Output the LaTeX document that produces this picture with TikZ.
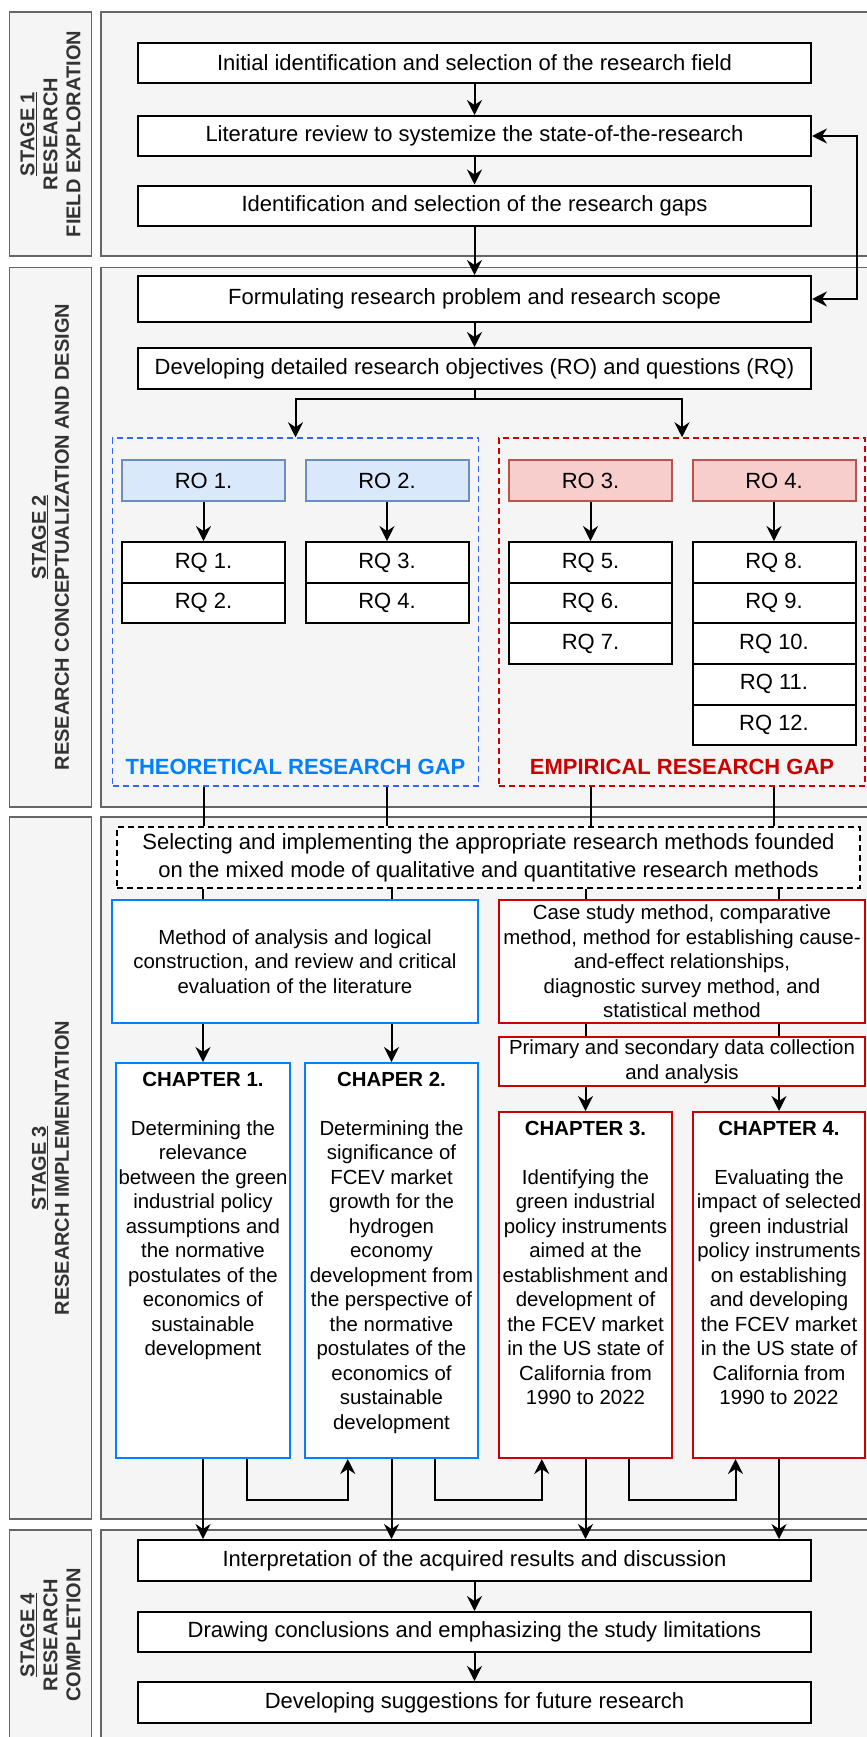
\documentclass[tikz,border=0pt]{standalone}
\usepackage{fontspec}
\setmainfont{Liberation Sans}
\usetikzlibrary{arrows.meta,positioning,calc}

\definecolor{panelfill}{HTML}{F5F5F5}
\definecolor{panelgray}{HTML}{666666}
\definecolor{labelgray}{HTML}{333333}
\definecolor{dashblue}{HTML}{3366FF}
\definecolor{theoblue}{HTML}{007FFF}
\definecolor{empred}{HTML}{CC0000}
\definecolor{rofillblue}{HTML}{DAE8FC}
\definecolor{rodrawblue}{HTML}{6C8EBF}
\definecolor{rofillred}{HTML}{F8CECC}
\definecolor{rodrawred}{HTML}{B85450}

\begin{document}
\begin{tikzpicture}[x=1pt,y=-1pt,
  panel/.style={draw=panelgray,fill=panelfill,line width=1.5pt},
  stagetext/.style={rotate=90,align=center,text=labelgray,inner sep=0pt,
    font=\fontsize{20}{23}\selectfont\bfseries},
  box/.style={draw,fill=white,line width=2pt,inner sep=0pt,minimum width=673pt,
    minimum height=40pt,font=\fontsize{22}{26.4}\selectfont},
  smallbox/.style={draw,fill=white,line width=2pt,inner sep=0pt,minimum width=163pt,
    minimum height=40.7pt,font=\fontsize{22}{26.4}\selectfont},
  robox/.style={smallbox,fill=rofillblue,draw=rodrawblue},
  rorbox/.style={smallbox,fill=rofillred,draw=rodrawred},
  gapbox/.style={draw,dash pattern=on 6pt off 4pt,line width=1.5pt,
    minimum width=366pt,minimum height=348pt},
  gaptext/.style={font=\fontsize{22}{26.4}\selectfont\bfseries,inner sep=0pt},
  methbox/.style={draw,fill=white,line width=2.5pt,inner sep=0pt,align=center,
    minimum width=366pt,font=\fontsize{20.4}{24.5}\selectfont},
  chapbox/.style={draw,fill=white,line width=2pt,inner sep=0pt},
  chaptext/.style={align=center,inner sep=0pt,font=\fontsize{20.4}{24.5}\selectfont},
  conn/.style={line width=2pt,-{Stealth[length=15pt,width=15pt,inset=5pt]}},
  both/.style={line width=2pt,{Stealth[length=15pt,width=15pt,inset=5pt]}-{Stealth[length=15pt,width=15pt,inset=5pt]}},
  plain/.style={line width=2pt}]
\useasboundingbox (0,0) rectangle (867,1737);

% stage panels
\draw[panel] (9.5,12) rectangle (91.5,256);
\draw[panel] (101,12) rectangle (880,256);
\draw[panel] (9.5,267.5) rectangle (91.5,807);
\draw[panel] (101,267.5) rectangle (880,807);
\draw[panel] (9.5,817) rectangle (91.5,1519);
\draw[panel] (101,817) rectangle (880,1519);
\draw[panel] (9.5,1530) rectangle (91.5,1760);
\draw[panel] (101,1530) rectangle (880,1760);

\node[stagetext] (st1) at (50.5,134) {\underline{STAGE 1}\\RESEARCH\\FIELD EXPLORATION};
\node[stagetext] (st2) at (50.5,537) {\underline{STAGE 2}\\RESEARCH CONCEPTUALIZATION AND DESIGN};
\node[stagetext] (st3) at (50.5,1168) {\underline{STAGE 3}\\RESEARCH IMPLEMENTATION};
\node[stagetext] (st4) at (50.5,1635) {\underline{STAGE 4}\\RESEARCH\\COMPLETION};

% stage 1
\node[box] (init) at (474.5,63) {Initial identification and selection of the research field};
\node[box] (litrev) at (474.5,136) {Literature review to systemize the state-of-the-research};
\node[box] (gaps) at (474.5,205.5) {Identification and selection of the research gaps};

% stage 2
\node[box,minimum height=46pt] (formul) at (474.5,299) {Formulating research problem and research scope};
\node[box,minimum height=41pt] (devobj) at (474.5,368.5) {Developing detailed research objectives (RO) and questions (RQ)};

\node[gapbox,draw=dashblue] (theo) at (295.5,612) {};
\node[gapbox,draw=empred] (emp) at (682,612) {};

\node[robox] (ro1) at (203.5,480.5) {RO 1.};
\node[robox] (ro2) at (387,480.5) {RO 2.};
\node[rorbox] (ro3) at (590.5,480.5) {RO 3.};
\node[rorbox] (ro4) at (774,480.5) {RO 4.};

\node[smallbox] (rq1) at (203.5,562.4) {RQ 1.};
\node[smallbox] (rq2) at (203.5,603) {RQ 2.};
\node[smallbox] (rq3) at (387,562.4) {RQ 3.};
\node[smallbox] (rq4) at (387,603) {RQ 4.};
\node[smallbox] (rq5) at (590.5,562.4) {RQ 5.};
\node[smallbox] (rq6) at (590.5,603) {RQ 6.};
\node[smallbox] (rq7) at (590.5,643.7) {RQ 7.};
\node[smallbox] (rq8) at (774,562.4) {RQ 8.};
\node[smallbox] (rq9) at (774,603) {RQ 9.};
\node[smallbox] (rq10) at (774,643.7) {RQ 10.};
\node[smallbox] (rq11) at (774,684.3) {RQ 11.};
\node[smallbox] (rq12) at (774,725) {RQ 12.};

\node[gaptext,text=theoblue] (theolab) at (295.5,767) {THEORETICAL RESEARCH GAP};
\node[gaptext,text=empred] (emplab) at (682,767) {EMPIRICAL RESEARCH GAP};

% stage 3
\node[methbox,dash pattern=on 6pt off 4pt,minimum width=743pt,minimum height=61pt,
  font=\fontsize{22}{28}\selectfont] (meth) at (488.5,857.5)
  {Selecting and implementing the appropriate research methods founded\\on the mixed mode of qualitative and quantitative research methods};
\node[methbox,draw=theoblue,minimum height=123pt] (mtheo) at (295,961.5)
  {Method of analysis and logical\\construction, and review and critical\\evaluation of the literature};
\node[methbox,draw=empred,minimum height=123pt] (memp) at (682,961.5)
  {Case study method, comparative\\method, method for establishing cause-\\and-effect relationships,\\diagnostic survey method, and\\statistical method};
\node[methbox,draw=empred,minimum height=49pt] (prim) at (682,1061.5)
  {Primary and secondary data collection\\and analysis};

\node[chapbox,draw=theoblue,minimum width=174pt,minimum height=395pt] (ch1) at (203,1260.5) {};
\node[chapbox,draw=theoblue,minimum width=173pt,minimum height=395pt] (ch2) at (391.5,1260.5) {};
\node[chapbox,draw=empred,minimum width=173pt,minimum height=346pt] (ch3) at (585.5,1285) {};
\node[chapbox,draw=empred,minimum width=172pt,minimum height=346pt] (ch4) at (779,1285) {};

\node[chaptext,below=10pt of ch1.north] (ch1txt) {\textbf{CHAPTER 1.}\\[24.5pt]
  Determining the\\relevance\\between the green\\industrial policy\\assumptions and\\the normative\\postulates of the\\economics of\\sustainable\\development};
\node[chaptext,below=10pt of ch2.north] (ch2txt) {\textbf{CHAPER 2.}\\[24.5pt]
  Determining the\\significance of\\FCEV market\\growth for the\\hydrogen\\economy\\development from\\the perspective of\\the normative\\postulates of the\\economics of\\sustainable\\development};
\node[chaptext,below=10pt of ch3.north] (ch3txt) {\textbf{CHAPTER 3.}\\[24.5pt]
  Identifying the\\green industrial\\policy instruments\\aimed at the\\establishment and\\development of\\the FCEV market\\in the US state of\\California from\\1990 to 2022};
\node[chaptext,below=10pt of ch4.north] (ch4txt) {\textbf{CHAPTER 4.}\\[24.5pt]
  Evaluating the\\impact of selected\\green industrial\\policy instruments\\on establishing\\and developing\\the FCEV market\\in the US state of\\California from\\1990 to 2022};

% stage 4
\node[box,minimum height=41pt] (interp) at (474.5,1560.5) {Interpretation of the acquired results and discussion};
\node[box] (concl) at (474.5,1632) {Drawing conclusions and emphasizing the study limitations};
\node[box,minimum height=41pt] (sugg) at (474.5,1702.5) {Developing suggestions for future research};

% connectors
\draw[conn] (init) -- (litrev);
\draw[conn] (litrev) -- (gaps);
\draw[conn] (gaps) -- (formul);
\draw[conn] (formul) -- (devobj);
\draw[both] (litrev.east) -- ++(45,0) |- (formul.east);
\draw[conn] (devobj.south) -- ++(0,9) -| (theo.north);
\draw[conn] (devobj.south) -- ++(0,9) -| (emp.north);

\draw[conn] (ro1) -- (rq1);
\draw[conn] (ro2) -- (rq3);
\draw[conn] (ro3) -- (rq5);
\draw[conn] (ro4) -- (rq8);

\draw[plain] (ro1 |- theo.south) -- (ro1 |- meth.north);
\draw[plain] (ro2 |- theo.south) -- (ro2 |- meth.north);
\draw[plain] (ro3 |- emp.south) -- (ro3 |- meth.north);
\draw[plain] (ro4 |- emp.south) -- (ro4 |- meth.north);

\draw[plain] (ch1 |- meth.south) -- (ch1 |- mtheo.north);
\draw[plain] (ch2 |- meth.south) -- (ch2 |- mtheo.north);
\draw[plain] (ch3 |- meth.south) -- (ch3 |- memp.north);
\draw[plain] (ch4 |- meth.south) -- (ch4 |- memp.north);

\draw[conn] (ch1 |- mtheo.south) -- (ch1.north);
\draw[conn] (ch2 |- mtheo.south) -- (ch2.north);
\draw[plain] (ch3 |- memp.south) -- (ch3 |- prim.north);
\draw[plain] (ch4 |- memp.south) -- (ch4 |- prim.north);
\draw[conn] (ch3 |- prim.south) -- (ch3.north);
\draw[conn] (ch4 |- prim.south) -- (ch4.north);

\draw[conn] ($(ch1.south west)!.75!(ch1.south east)$) -- ++(0,41) -| ($(ch2.south west)!.25!(ch2.south east)$);
\draw[conn] ($(ch2.south west)!.75!(ch2.south east)$) -- ++(0,41) -| ($(ch3.south west)!.25!(ch3.south east)$);
\draw[conn] ($(ch3.south west)!.75!(ch3.south east)$) -- ++(0,41) -| ($(ch4.south west)!.25!(ch4.south east)$);

\draw[conn] (ch1.south) -- (ch1 |- interp.north);
\draw[conn] (ch2.south) -- (ch2 |- interp.north);
\draw[conn] (ch3.south) -- (ch3 |- interp.north);
\draw[conn] (ch4.south) -- (ch4 |- interp.north);

\draw[conn] (interp) -- (concl);
\draw[conn] (concl) -- (sugg);
\end{tikzpicture}
\end{document}
